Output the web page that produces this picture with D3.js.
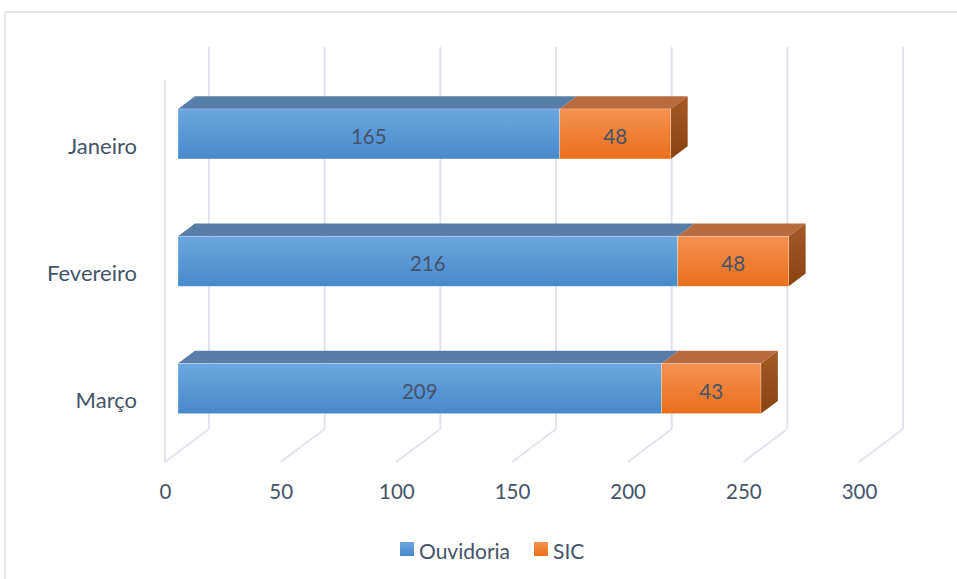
<!DOCTYPE html>
<html>
<head>
<meta charset="utf-8">
<script src="https://cdn.jsdelivr.net/npm/d3@7"></script>
<style>
  html, body { margin: 0; padding: 0; background: #fff; overflow: hidden; }
  svg { display: block; font-family: Lato, "Open Sans", sans-serif; }
</style>
</head>
<body>
<svg id="chart" width="957" height="579"></svg>
<script>
const categories = ["Janeiro", "Fevereiro", "Março"];
const seriesNames = ["Ouvidoria", "SIC"];
const ouvidoria = [165, 216, 209];
const sic = [48, 48, 43];
const xTicks = [0, 50, 100, 150, 200, 250, 300];

const textColor = "#44546a";
const gridColor = "#e1e4ee";

// oblique 3d: depth z in [0,1] shifts right and up
const depthX = 44, depthY = 33;
const zFront = 0.295, zBack = 0.68;

const svg = d3.select("#chart");

// chart border (cut by the window on right and bottom)
svg.append("rect")
  .attr("x", 5).attr("y", 12)
  .attr("width", 1000).attr("height", 700)
  .attr("fill", "none")
  .attr("stroke", "#dde1e6")
  .attr("stroke-width", 1.5);

const x = d3.scaleLinear().domain([0, 300]).range([165, 859]);
const y = d3.scaleBand()
  .domain(categories)
  .range([80, 462])
  .paddingInner(0.607)
  .paddingOuter(0.3035);

const px = (v, z) => x(v) + depthX * z;
const py = (yy, z) => yy - depthY * z;

const defs = svg.append("defs");
function vGrad(id, top, bottom) {
  const g = defs.append("linearGradient").attr("id", id)
    .attr("x1", 0).attr("y1", 0).attr("x2", 0).attr("y2", 1);
  g.append("stop").attr("offset", "0%").attr("stop-color", top);
  g.append("stop").attr("offset", "100%").attr("stop-color", bottom);
}
vGrad("blueFront", "#6ca7e0", "#4689cb");
vGrad("orangeFront", "#f5914f", "#e96f1b");
vGrad("orangeSide", "#a65a26", "#8a4210");

const grid = svg.append("g");
const [y0, y1] = y.range();

// back wall verticals
grid.selectAll(".back")
  .data(xTicks)
  .enter()
  .append("line")
  .attr("x1", d => px(d, 1)).attr("x2", d => px(d, 1))
  .attr("y1", py(y0, 1)).attr("y2", py(y1, 1))
  .attr("stroke", gridColor).attr("stroke-width", 2);

// floor diagonals
grid.selectAll(".floor")
  .data(xTicks)
  .enter()
  .append("line")
  .attr("x1", d => px(d, 0)).attr("x2", d => px(d, 1))
  .attr("y1", py(y1, 0)).attr("y2", py(y1, 1))
  .attr("stroke", gridColor).attr("stroke-width", 2);

// side wall front edge
grid.append("line")
  .attr("x1", px(0, 0)).attr("x2", px(0, 0))
  .attr("y1", y0).attr("y2", y1)
  .attr("stroke", gridColor).attr("stroke-width", 2);

const rows = categories.map((c, i) => ({
  cat: c,
  segs: [
    { name: seriesNames[0], v0: 0, v1: ouvidoria[i], val: ouvidoria[i] },
    { name: seriesNames[1], v0: ouvidoria[i], v1: ouvidoria[i] + sic[i], val: sic[i] }
  ]
}));

const topColor = { "Ouvidoria": "#577ea8", "SIC": "#b96a3f" };
const frontFill = { "Ouvidoria": "url(#blueFront)", "SIC": "url(#orangeFront)" };

const bars = svg.selectAll(".bar")
  .data(rows)
  .enter()
  .append("g")
  .attr("class", "bar");

bars.each(function (row) {
  const g = d3.select(this);
  const top = y(row.cat);
  const h = y.bandwidth();
  const pts = arr => arr.map(p => p.join(",")).join(" ");

  // top faces
  g.selectAll(".top")
    .data(row.segs)
    .enter()
    .append("polygon")
    .attr("points", d => pts([
      [px(d.v0, zFront), py(top, zFront)],
      [px(d.v1, zFront), py(top, zFront)],
      [px(d.v1, zBack), py(top, zBack)],
      [px(d.v0, zBack), py(top, zBack)]
    ]))
    .attr("fill", d => topColor[d.name]);

  // right side of the last segment
  const last = row.segs[row.segs.length - 1];
  g.append("polygon")
    .attr("points", pts([
      [px(last.v1, zFront), py(top, zFront)],
      [px(last.v1, zBack), py(top, zBack)],
      [px(last.v1, zBack), py(top + h, zBack)],
      [px(last.v1, zFront), py(top + h, zFront)]
    ]))
    .attr("fill", "url(#orangeSide)");

  // front faces
  g.selectAll(".front")
    .data(row.segs)
    .enter()
    .append("rect")
    .attr("x", d => px(d.v0, zFront))
    .attr("y", py(top, zFront))
    .attr("width", d => x(d.v1) - x(d.v0))
    .attr("height", h)
    .attr("fill", d => frontFill[d.name])
    .attr("stroke", "rgba(255,255,255,0.35)")
    .attr("stroke-width", 0.8);

  // value labels
  g.selectAll(".lbl")
    .data(row.segs)
    .enter()
    .append("text")
    .attr("x", d => (px(d.v0, zFront) + px(d.v1, zFront)) / 2)
    .attr("y", py(top, zFront) + h / 2 + 2)
    .attr("text-anchor", "middle")
    .attr("dominant-baseline", "central")
    .attr("fill", textColor)
    .style("font-size", "20.5px")
    .text(d => d.val);
});

// value axis labels
const xAxis = d3.axisBottom(x).tickValues(xTicks).tickSize(0).tickPadding(0);
svg.append("g")
  .attr("transform", "translate(0,484)")
  .call(xAxis)
  .call(g => g.select(".domain").remove())
  .selectAll("text")
  .attr("fill", textColor)
  .style("font-size", "20.5px")
  .style("font-family", "Lato, sans-serif");

// category labels
const yAxis = d3.axisLeft(y).tickSize(0).tickPadding(0);
svg.append("g")
  .attr("transform", "translate(137,3)")
  .call(yAxis)
  .call(g => g.select(".domain").remove())
  .selectAll("text")
  .attr("fill", textColor)
  .style("font-size", "22px")
  .style("font-family", "Lato, sans-serif");

// legend
const legendGrad = ["url(#blueFront)", "url(#orangeFront)"];
const legend = svg.append("g").attr("transform", "translate(400,542)");
const legendX = [0, 134];
seriesNames.forEach((name, i) => {
  const item = legend.append("g").attr("transform", `translate(${legendX[i]},0)`);
  item.append("rect")
    .attr("width", 14).attr("height", 14)
    .attr("fill", legendGrad[i]);
  item.append("text")
    .attr("x", 19).attr("y", 8)
    .attr("dominant-baseline", "central")
    .attr("fill", textColor)
    .style("font-size", "21px")
    .text(name);
});
</script>
</body>
</html>
